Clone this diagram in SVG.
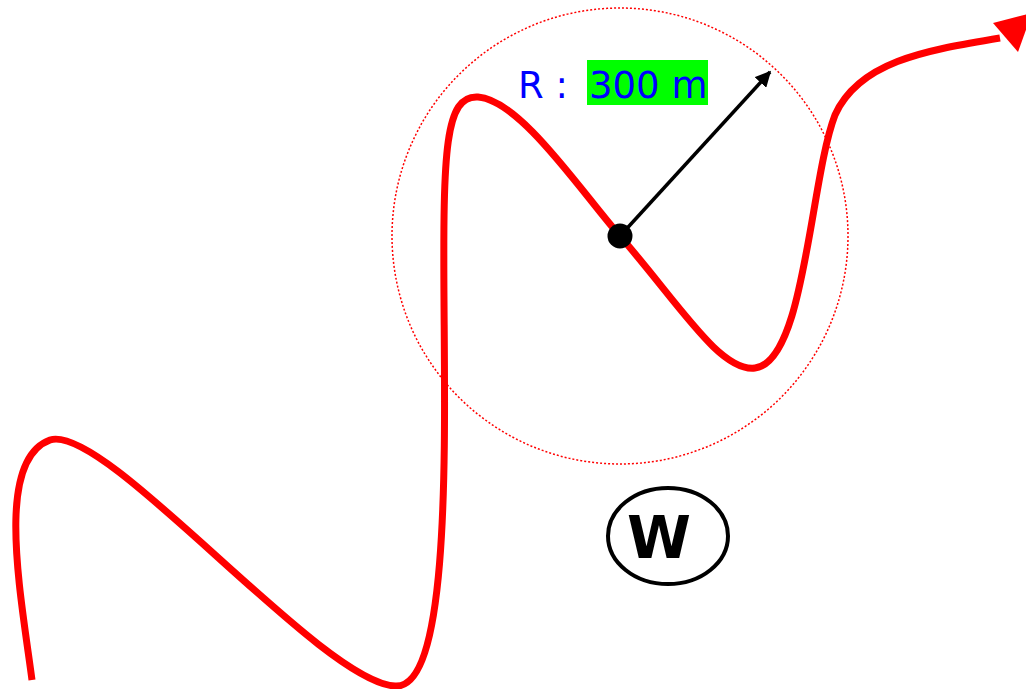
<svg xmlns="http://www.w3.org/2000/svg" width="1026" height="689" viewBox="0 0 1026 689">
<style>
.route{fill:none;stroke:#ff0000;stroke-width:7;stroke-linecap:butt}
.zone{fill:none;stroke:#ff0000;stroke-width:1.5;stroke-dasharray:2 2}
.lbl{font-family:"DejaVu Sans",sans-serif;font-size:37px;fill:#0000ff}
.w{font-family:"DejaVu Sans",sans-serif;font-size:58px;font-weight:bold;fill:#000}
</style>
<defs>
<marker id="ah" viewBox="0 0 10 10" refX="9" refY="5" markerWidth="4.5" markerHeight="4.5" orient="auto" markerUnits="strokeWidth">
<path d="M0 0 L10 5 L0 10 Z" fill="#000"/>
</marker>
</defs>
<rect width="1026" height="689" fill="#fff"/>
<g id="zone">
<circle class="zone" cx="620" cy="236" r="228"/>
</g>
<g id="connectors">
<path class="route" d="M32 680 C20 590 -5 460 50 440 C105 422 320 682 395 686 C450 690 445 450 444 300 C443 150 445 95 478 97 C520 100 580 190 620 236 C680 305 720 372 755 368 C805 362 810 180 835 115 C860 60 930 50 1000 38"/>
<polygon points="993,23 1018,52 1032,13" fill="#ff0000"/>
<line x1="620" y1="236" x2="770" y2="72" stroke="#000" stroke-width="3.5" marker-end="url(#ah)"/>
</g>
<g id="center">
<circle cx="620" cy="236" r="12.5" fill="#000"/>
</g>
<g id="label">
<rect x="587" y="60" width="121" height="45" fill="#00ff00"/>
<text class="lbl" x="518" y="98">R : <tspan x="589">300 m</tspan></text>
</g>
<g id="w-node">
<ellipse cx="668" cy="536" rx="60" ry="48" fill="none" stroke="#000" stroke-width="4"/>
<text class="w" x="659" y="558" text-anchor="middle">W</text>
</g>
</svg>
